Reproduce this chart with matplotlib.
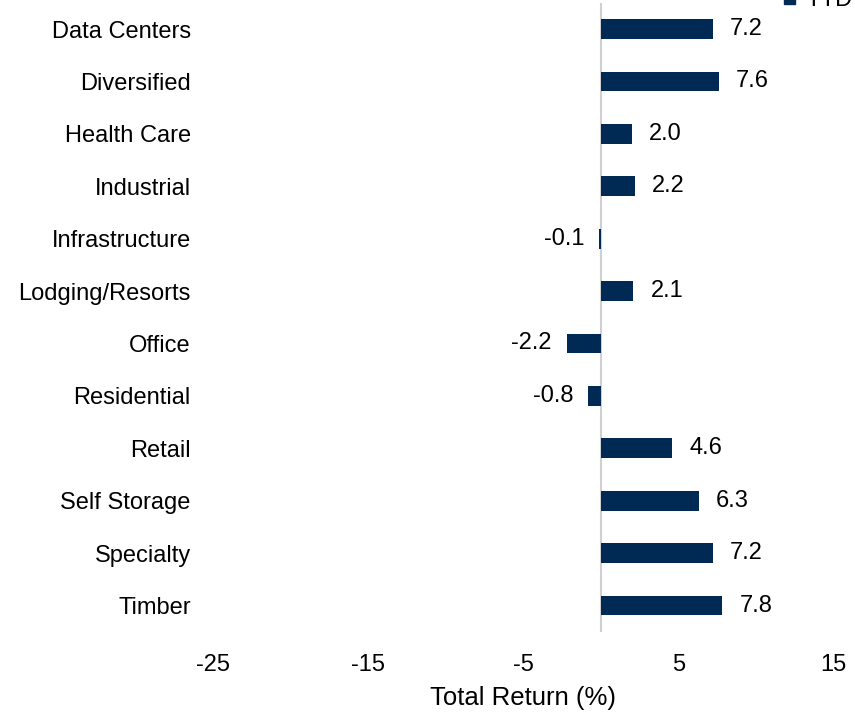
import matplotlib.pyplot as plt
from matplotlib.patches import Patch

plt.rcParams['font.family'] = ['Liberation Sans', 'DejaVu Sans']

# REIT sector returns
sectors = ["Data Centers", "Diversified", "Health Care", "Industrial", "Infrastructure",
           "Lodging/Resorts", "Office", "Residential", "Retail", "Self Storage",
           "Specialty", "Timber"]
ytd = [7.2, 7.6, 2.0, 2.2, -0.1, 2.1, -2.2, -0.8, 4.6, 6.3, 7.2, 7.8]
xticks = [-25, -15, -5, 5, 15]

bar_color = "#002a54"
fs = 17

fig = plt.figure(figsize=(8.55, 7.13), dpi=100)
ax = fig.add_axes([0.249, 0.114, 0.726, 0.882])

ypos = list(range(len(sectors)))
ax.barh(ypos, ytd, height=0.38, color=bar_color, zorder=3)
ax.axvline(0, color="#d0d0d0", lw=1.5, zorder=2)

for y, v in zip(ypos, ytd):
    if v >= 0:
        ax.annotate(f"{v:.1f}", (v, y), xytext=(12.5, 0), textcoords="offset points",
                    ha="left", va="center", fontsize=fs)
    else:
        ax.annotate(f"{v:.1f}", (v, y), xytext=(-11, 0), textcoords="offset points",
                    ha="right", va="center", fontsize=fs)

ax.set_xlim(-25, 15)
ax.set_ylim(len(sectors) - 0.5, -0.5)
ax.set_xticks(xticks)
ax.set_xticklabels([str(t) for t in xticks], fontsize=fs)
ax.set_yticks(ypos)
ax.set_yticklabels(sectors, fontsize=fs)
ax.tick_params(length=0, pad=16)
ax.tick_params(axis="x", pad=16)
for s in ax.spines.values():
    s.set_visible(False)
ax.set_xlabel("Total Return (%)", fontsize=18.5, labelpad=7)

fig.legend(handles=[Patch(color=bar_color, label="YTD")], loc="upper right",
           bbox_to_anchor=(1.022, 1.045), frameon=False, fontsize=fs,
           handlelength=0.45, handleheight=0.45, handletextpad=0.45)

fig.savefig("out.png", dpi=100)
